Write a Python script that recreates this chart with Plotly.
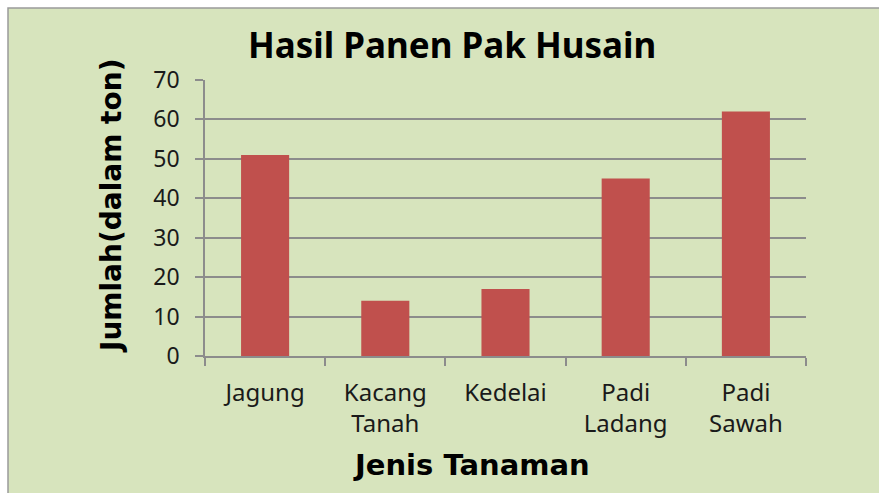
import plotly.graph_objects as go

# Harvest data (tons)
categories = ["Jagung", "Kacang<br>Tanah", "Kedelai", "Padi<br>Ladang", "Padi<br>Sawah"]
values = [51, 14, 17, 45, 62]
y_ticks = [0, 10, 20, 30, 40, 50, 60, 70]

W, H = 879, 493
L, R, T, B = 205, 73, 80, 137
pw, ph = W - L - R, H - T - B


def px(x):
    return (x - L) / pw


def py(y):
    return (H - B - y) / ph


fig = go.Figure(go.Bar(
    x=categories,
    y=values,
    marker=dict(color="#C0504D", line=dict(width=0)),
))

fig.update_layout(
    width=W, height=H,
    margin=dict(l=L, r=R, t=T, b=B),
    paper_bgcolor="white",
    plot_bgcolor="#F2DCDB",
    bargap=0.6,
    showlegend=False,
    font=dict(family="Noto Sans", color="#1a1a1a"),
    shapes=[
        # green chart area with a thin gray frame
        dict(type="rect", xref="paper", yref="paper",
             x0=px(8), x1=px(W + 5), y0=py(8), y1=py(H + 5),
             fillcolor="#D7E4BD", line=dict(color="#9A9A9A", width=1.5),
             layer="below"),
    ],
    annotations=[
        dict(text="<b>Hasil Panen Pak Husain</b>", xref="paper", yref="paper",
             x=px(452), y=py(44), xanchor="center", yanchor="middle",
             showarrow=False, font=dict(size=35, family="Noto Sans", color="black")),
        dict(text="<b>Jumlah(dalam ton)</b>", xref="paper", yref="paper",
             x=px(111), y=py(206), xanchor="center", yanchor="middle",
             textangle=-90, showarrow=False,
             font=dict(size=28, family="DejaVu Sans", color="black")),
        dict(text="<b>Jenis Tanaman</b>", xref="paper", yref="paper",
             x=px(471), y=py(465), xanchor="center", yanchor="middle",
             showarrow=False, font=dict(size=29, family="DejaVu Sans", color="black")),
    ],
)

fig.update_yaxes(
    range=[0, 70], tickvals=y_ticks,
    showgrid=True, gridcolor="#8C8C8C", gridwidth=1.5,
    showline=True, linecolor="#8C8C8C", linewidth=1.5,
    ticks="outside", ticklen=8, tickcolor="#8C8C8C", tickwidth=1.5,
    ticklabelstandoff=11,
    tickfont=dict(size=23, family="Noto Sans", color="#1a1a1a"),
    zeroline=False, fixedrange=True,
)

fig.update_xaxes(
    showgrid=False,
    showline=True, linecolor="#8C8C8C", linewidth=1.5,
    ticks="outside", ticklen=8, tickcolor="#8C8C8C", tickwidth=1.5,
    tickson="boundaries",
    ticklabelstandoff=14,
    tickfont=dict(size=24, family="Noto Sans", color="#1a1a1a"),
    fixedrange=True,
)

fig.write_html("out.html")
